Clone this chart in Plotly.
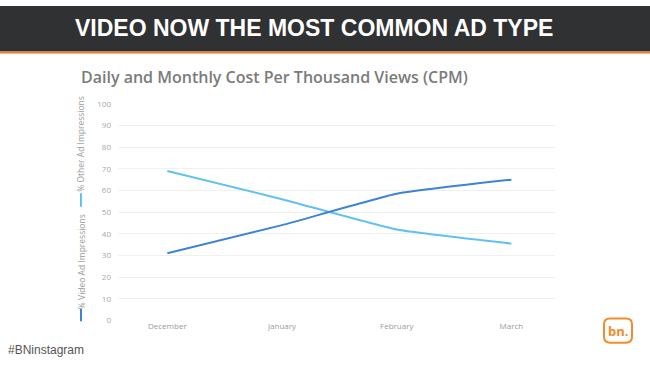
import plotly.graph_objects as go

months = ["December", "January", "February", "March"]
video_pct = [31, 44, 58.5, 65]
other_pct = [69, 56, 42, 35.5]
y_ticks = [0, 10, 20, 30, 40, 50, 60, 70, 80, 90, 100]

W, H = 650, 369
def px(x): return x / W
def py(y): return 1 - y / H

VIDEO_C = "#3d84d6"
OTHER_C = "#62c2ee"
ORANGE = "#f58a2a"

def rounded_rect(x0, y0, x1, y1, r):
    X0, X1 = px(x0), px(x1)
    Y0, Y1 = py(y0), py(y1)
    rx, ry = r / W, r / H
    return (f"M {X0+rx},{Y0} L {X1-rx},{Y0} Q {X1},{Y0} {X1},{Y0-ry} "
            f"L {X1},{Y1+ry} Q {X1},{Y1} {X1-rx},{Y1} L {X0+rx},{Y1} "
            f"Q {X0},{Y1} {X0},{Y1+ry} L {X0},{Y0-ry} Q {X0},{Y0} {X0+rx},{Y0} Z")

fig = go.Figure()
fig.add_trace(go.Scatter(x=months, y=other_pct, mode="lines", name="% Other Ad Impressions",
                         line=dict(color=OTHER_C, width=2, shape="spline", smoothing=0.4)))
fig.add_trace(go.Scatter(x=months, y=video_pct, mode="lines", name="% Video Ad Impressions",
                         line=dict(color=VIDEO_C, width=2, shape="spline", smoothing=0.4)))

fig.update_layout(
    width=W, height=H,
    margin=dict(l=0, r=0, t=0, b=0),
    paper_bgcolor="white", plot_bgcolor="white",
    showlegend=False,
    xaxis=dict(domain=[px(118), px(555)], range=[-0.43, 3.38], showgrid=False, zeroline=False,
               showline=False, ticks="", tickfont=dict(family="Open Sans", size=8, color="#9a9a9a")),
    yaxis=dict(domain=[py(324), py(101)], range=[0, 100], tickvals=y_ticks, showgrid=True,
               gridcolor="#f0f0f0", gridwidth=1, zeroline=False, showline=False, ticks="",
               ticklabelstandoff=6,
               tickfont=dict(family="Open Sans", size=8, color="#a8a8a8")),
    shapes=[
        dict(type="rect", xref="paper", yref="paper", x0=0, x1=1, y0=py(47), y1=1,
             fillcolor="#2f3133", line=dict(width=0), layer="below"),
        dict(type="rect", xref="paper", yref="paper", x0=0, x1=1, y0=py(49), y1=py(47),
             fillcolor="#e8782e", line=dict(width=0), layer="below"),
        dict(type="line", xref="paper", yref="paper", x0=px(81), x1=px(81), y0=py(193), y1=py(207),
             line=dict(color=OTHER_C, width=2)),
        dict(type="line", xref="paper", yref="paper", x0=px(81), x1=px(81), y0=py(312), y1=py(325),
             line=dict(color=VIDEO_C, width=2)),
        dict(type="path", xref="paper", yref="paper", path=rounded_rect(604, 322, 632, 347, 6),
             fillcolor="white", line=dict(color=ORANGE, width=2)),
    ],
    annotations=[
        dict(text="<b>VIDEO NOW THE MOST COMMON AD TYPE</b>", xref="paper", yref="paper",
             x=px(314), y=py(23), xanchor="center", yanchor="middle", showarrow=False,
             font=dict(family="Liberation Sans", size=23, color="white")),
        dict(text="Daily and Monthly Cost Per Thousand Views (CPM)", xref="paper", yref="paper",
             x=px(79), y=py(73), xanchor="left", yanchor="middle", showarrow=False,
             font=dict(family="Open Sans", size=16, color="#7b7b7b", weight=600)),
        dict(text="% Other Ad Impressions", xref="paper", yref="paper", textangle=-90,
             x=px(81), y=py(142), xanchor="center", yanchor="middle", showarrow=False,
             font=dict(family="Open Sans", size=8.5, color="#9a9a9a")),
        dict(text="% Video Ad Impressions", xref="paper", yref="paper", textangle=-90,
             x=px(81), y=py(264), xanchor="center", yanchor="middle", showarrow=False,
             font=dict(family="Open Sans", size=8.5, color="#9a9a9a")),
        dict(text="#BNinstagram", xref="paper", yref="paper",
             x=px(6), y=py(355), xanchor="left", yanchor="middle", showarrow=False,
             font=dict(family="Liberation Sans", size=12, color="#555555")),
        dict(text="<b>bn.</b>", xref="paper", yref="paper",
             x=px(618), y=py(334.5), xanchor="center", yanchor="middle", showarrow=False,
             font=dict(family="Open Sans", size=13, color=ORANGE)),
    ],
)

fig.write_html("out.html", config={"displayModeBar": False},
               post_script="document.body.style.margin='0';document.body.style.overflow='hidden';")
